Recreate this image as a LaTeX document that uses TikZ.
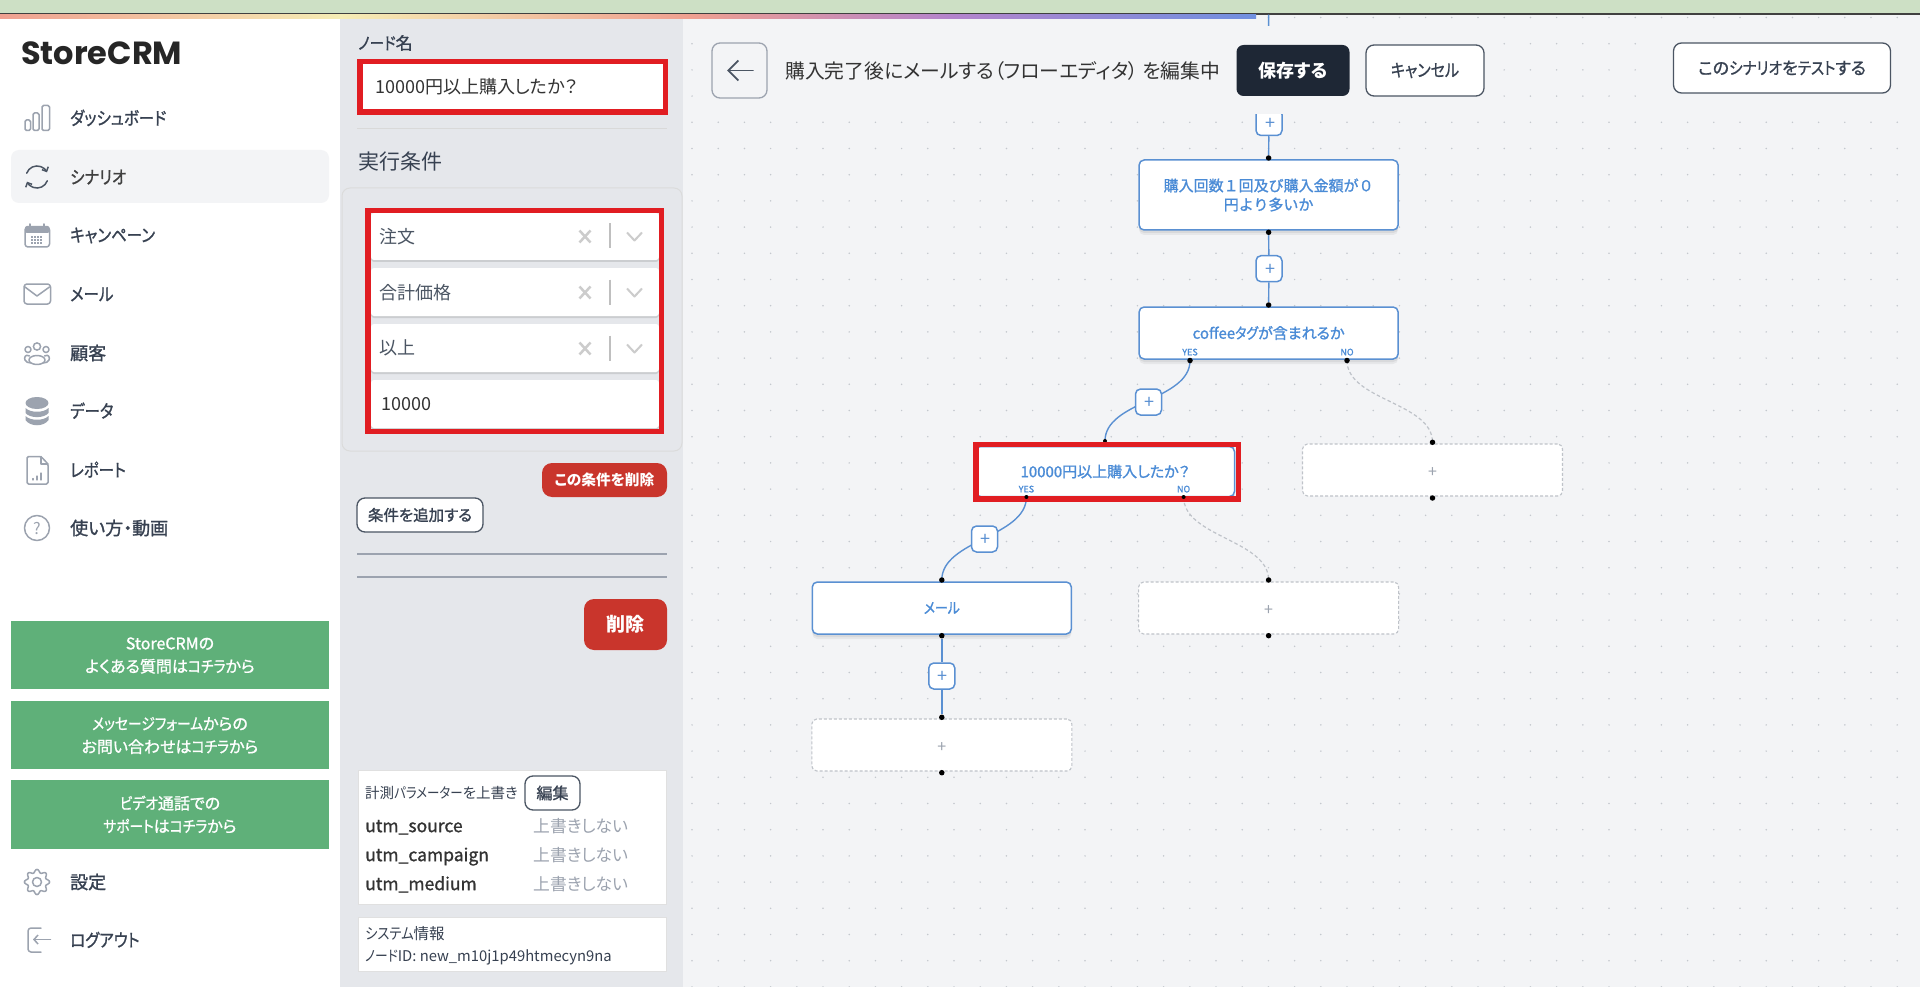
\documentclass[tikz,border=0pt]{standalone}
\usepackage{fontspec}
\usetikzlibrary{shadows,arrows.meta}
\setmainfont{Noto Sans CJK JP}[RawFeature={+palt}]
\newfontfamily\jpm{Noto Sans CJK JP}[RawFeature={+palt},FakeBold=1.2]
\newfontfamily\jpw{Noto Sans CJK JP}[FakeBold=1.2]
\newfontfamily\kanaf{Noto Sans CJK JP}[RawFeature={+palt},FakeStretch=0.86,FakeBold=1.0]
\newfontfamily\kanar{Noto Sans CJK JP}[RawFeature={+palt},FakeStretch=0.86]
\newfontfamily\logofont{Poppins}
\newcommand\kn[1]{{\kanaf #1}}
\newcommand\kr[1]{{\kanar #1}}
\newcommand\plusg{\raisebox{-.46em}[.5em][.5em]{+}}
\newcommand\plusb{\hspace*{2pt}\raisebox{-.38em}[.5em][.5em]{+}}
\definecolor{canvasc}{HTML}{F3F4F6}
\definecolor{panelc}{HTML}{E5E7EB}
\definecolor{bandc}{HTML}{CDE0C5}
\definecolor{redbox}{HTML}{E11D22}
\definecolor{redbtn}{HTML}{C9352C}
\definecolor{greenbtn}{HTML}{5FB079}
\definecolor{navy}{HTML}{1E2735}
\definecolor{txt}{HTML}{374151}
\definecolor{txtl}{HTML}{4B5563}
\definecolor{iconc}{HTML}{9CA3AF}
\definecolor{flowb}{HTML}{5A90D2}
\definecolor{flowt}{HTML}{4A8BD6}
\definecolor{ghost}{HTML}{BFC3C9}
\definecolor{griddot}{HTML}{C4C8CE}
\definecolor{gsalmon}{HTML}{EFA090}
\definecolor{gyellow}{HTML}{F5EDB5}
\definecolor{gpurple}{HTML}{B484CC}
\definecolor{gblue}{HTML}{7090E0}
\pgfdeclarelayer{bg}\pgfdeclarelayer{conn}
\pgfsetlayers{bg,conn,main}
\tikzset{
  tx/.style={font=\fontsize{#1}{#1}\selectfont,inner sep=0pt,text height=0.88*#1pt,text depth=0.12*#1pt},
  tm/.style={font=\jpm\fontsize{#1}{#1}\selectfont,inner sep=0pt,text height=0.88*#1pt,text depth=0.12*#1pt},
  menutx/.style={tm=18,text=txt,anchor=west},
  field/.style={fill=white,rounded corners=3pt,drop shadow={shadow xshift=0pt,shadow yshift=-2pt,opacity=.25,fill=gray}},
  boxed/.style={draw=#1,line width=5.5pt,fill=white},
  greenb/.style={fill=greenbtn},
  greentx/.style={font=\jpm\fontsize{16}{23}\selectfont,text=white,align=center,inner sep=0pt},
  flownode/.style={draw=flowb,line width=1.5pt,fill=white,rounded corners=5pt,minimum width=259pt,minimum height=#1,inner sep=0pt,outer sep=0pt,
    drop shadow={shadow xshift=0pt,shadow yshift=-5pt,opacity=.05,fill=black},
    drop shadow={shadow xshift=0pt,shadow yshift=-3pt,opacity=.06,fill=black}},
  flowtx/.style={font=\jpm\fontsize{15}{19}\selectfont,text=flowt,align=center},
  ghostnode/.style={draw=ghost,line width=1.1pt,dash pattern=on 3pt off 2pt,fill=white,rounded corners=5pt,minimum width=260pt,minimum height=52pt,inner sep=0pt,
    font=\fontsize{16}{16}\selectfont,text=iconc},
  plusbox/.style={draw=flowb,line width=1.5pt,fill=white,rounded corners=5pt,minimum width=26pt,minimum height=26pt,inner sep=0pt,
    font=\fontsize{18}{18}\selectfont,text=flowb},
  port/.style={circle,fill=black,inner sep=0pt,minimum size=5.5pt},
  yn/.style={tm=9,text=flowt},
  flowline/.style={draw=flowb,line width=1.4pt},
  ghostline/.style={draw=ghost,line width=1.2pt,dash pattern=on 3.5pt off 2.5pt},
  icon/.style={draw=iconc,line width=1.5pt,line cap=round,line join=round},
  xmark/.style={draw=black!20,line width=2.5pt},
  chev/.style={draw=black!20,line width=2pt,line join=round},
  lightbtn/.style={draw=txtl,line width=1.3pt,fill=white,rounded corners=8pt,inner sep=0pt},
  sep/.style={draw=iconc,line width=1.2pt},
}
\begin{document}
\begin{tikzpicture}[x=1pt,y=-1pt]
\useasboundingbox (0,0) rectangle (1920,987);
\begin{pgfonlayer}{bg}
  \fill[canvasc] (0,0) rectangle (1920,987);
  \foreach \i in {0,...,47}{\foreach \j in {0,...,37}{
    \fill[griddot] ({692+26.2*\i},{17.5+26.2*\j}) circle (0.85pt);}}
  \fill[white] (0,15) rectangle (340,987);
  \fill[panelc] (340,15) rectangle (683,987);
  \fill[bandc] (0,0) rectangle (1920,13);
  \fill[black!75] (0,13) rectangle (1920,14.7);
  \shade[left color=gsalmon,right color=gyellow] (0,14.7) rectangle (340,18.5);
  \shade[left color=gyellow,right color=gsalmon] (340,14.7) rectangle (690,18.5);
  \shade[left color=gsalmon,right color=gpurple] (690,14.7) rectangle (950,18.5);
  \shade[left color=gpurple,right color=gblue] (950,14.7) rectangle (1256,18.5);
  \fill[canvasc] (11,150) [rounded corners=8pt] rectangle (329,203);
\end{pgfonlayer}

% sidebar
\node[anchor=base west,inner sep=0pt,font=\logofont\bfseries\fontsize{32}{32}\selectfont,text=black!85] (logo) at (21,64.5) {StoreCRM};
\node[menutx] (m1) at (70,118) {\kn{ダッシュボード}};
\node[menutx,text=black!75] (m2) at (70,177) {\kn{シナリオ}};
\node[menutx] (m3) at (70,235) {\kn{キャンペーン}};
\node[menutx] (m4) at (70,294) {\kn{メール}};
\node[menutx] (m5) at (70,353) {顧客};
\node[menutx] (m6) at (70,411) {\kn{データ}};
\node[menutx] (m7) at (70,470) {\kn{レポート}};
\node[menutx] (m8) at (70,528) {使い方・動画};
\node[menutx] (m9) at (70,882) {設定};
\node[menutx] (m10) at (70,940) {\kn{ログアウト}};
% icons
\draw[icon,rounded corners=1.5pt] (25,120) rectangle (30.5,130.5) (33,113) rectangle (39,130.5) (42,105.5) rectangle (49.5,130.5);
\draw[icon,draw=txtl,-{Straight Barb[length=3.5pt,width=7pt]}] (26.7,173.2) arc[start angle=160,end angle=25,radius=11pt];
\draw[icon,draw=txtl,-{Straight Barb[length=3.5pt,width=7pt]}] (47.3,180.8) arc[start angle=-20,end angle=-155,radius=11pt];
\draw[icon,rounded corners=3pt] (25,227) rectangle (49.5,247);
\fill[iconc,rounded corners=2pt] (25,226) rectangle (49.5,233);
\draw[icon] (30,224) -- (30,227) (44,224) -- (44,227);
\foreach \i in {0,1,2,3}{\foreach \j in {0,1,2}{\fill[iconc] ({31+3*\i},{236+3*\j}) rectangle ++(1.8,1.8);}}
\draw[icon,rounded corners=3pt] (24,284) rectangle (50.5,304);
\draw[icon] (25,287) -- (37,296) -- (49.5,287);
\draw[icon] (37,346.5) circle (3.6) (28,349.5) circle (3) (46,349.5) circle (3);
\draw[icon] (37,360) ellipse (8 and 4.5);
\draw[icon] (29.5,356) .. controls (25,353.5) and (24,358) .. (25,360) .. controls (26,362) and (28,363) .. (31,363);
\draw[icon] (44.5,356) .. controls (49,353.5) and (50,358) .. (49,360) .. controls (48,362) and (46,363) .. (43,363);
\fill[iconc] (37,403) ellipse (11.5 and 6);
\fill[iconc] (25.5,408) .. controls (30,413) and (44,413) .. (48.5,408) -- (48.5,413) .. controls (44,418.5) and (30,418.5) .. (25.5,413) -- cycle;
\fill[iconc] (25.5,416) .. controls (30,421) and (44,421) .. (48.5,416) -- (48.5,420) .. controls (44,427) and (30,427) .. (25.5,420) -- cycle;
\draw[icon,rounded corners=1.5pt] (41,456.5) -- (27,456.5) -- (27,484) -- (48,484) -- (48,464) -- cycle;
\draw[icon] (41,456.5) -- (41,464) -- (48,464);
\draw[icon,line width=1.1pt] (33,480) -- (33,478.5) (37,480) -- (37,476) (41,480) -- (41,473);
\draw[icon] (37,528) circle (12.5);
\node[tx=16,text=iconc] (helpq) at (37,528) {?};
\draw[icon] plot[domain=0:360,samples=73,smooth] ({37+(11+1.6*cos(8*\x))*cos(\x)},{882+(11+1.6*cos(8*\x))*sin(\x)});
\draw[icon] (37,882) circle (4.5);
\draw[icon,rounded corners=3pt] (41,928) -- (28,928) -- (28,952) -- (41,952);
\draw[icon,-{Straight Barb[length=4pt,width=9pt]}] (50.5,939.5) -- (33,939.5);
% green buttons
\fill[greenb] (11,621) rectangle (329,689);
\fill[greenb] (11,701) rectangle (329,769);
\fill[greenb] (11,780) rectangle (329,849);
\node[greentx] (g1) at (170,655.5) {StoreCRMの\\よくある質問は\kn{コチラ}から};
\node[greentx] (g2) at (170,735.5) {\kn{メッセージフォーム}からの\\お問い合わせは\kn{コチラ}から};
\node[greentx] (g3) at (170,814.5) {\kn{ビデオ}通話での\\\kn{サポート}は\kn{コチラ}から};

% properties panel
\node[tm=17,text=txt,anchor=west] (lblname) at (358,43) {\kn{ノード}名};
\filldraw[boxed=redbox] (359.75,61.45) rectangle (665.25,112.25);
\node[tx=18,text=black!80,anchor=west] (valname) at (375,87) {10000円以上購入したか？};
\draw[draw=black!15,line width=1pt] (357,128.5) -- (667,128.5);
\node[tx=21,text=txt,anchor=west] (lblcond) at (358,162) {実行条件};
\draw[draw=black!14,fill=panelc,rounded corners=8pt,line width=1pt] (342,188) rectangle (682,451);
\fill[field] (371,213) rectangle (659,260);
\fill[field] (371,268) rectangle (659,316);
\fill[field] (371,324) rectangle (659,372);
\fill[field] (371,380) rectangle (659,428);
\draw[draw=redbox,line width=5.5pt] (367.75,210.75) rectangle (661.25,431.25);
\node[tx=18,text=txtl,anchor=west] (f1) at (379,237) {注文};
\node[tx=18,text=txtl,anchor=west] (f2) at (379,292.5) {合計価格};
\node[tx=18,text=txtl,anchor=west] (f3) at (379,348) {以上};
\node[tx=18,text=black!80,anchor=west] (f4) at (381,404) {10000};
\foreach \yy in {236.5,292.5,348.5}{
  \draw[xmark] (579.5,{\yy-6}) -- (590.5,{\yy+6}) (590.5,{\yy-6}) -- (579.5,{\yy+6});
  \draw[draw=black!25,line width=1.2pt] (610,{\yy-13}) -- (610,{\yy+12});
  \draw[chev] (627,{\yy-4}) -- (634.5,{\yy+4}) -- (642,{\yy-4});
}
\node[fill=redbtn,rounded corners=10pt,minimum width=125pt,minimum height=34pt,inner sep=0pt,text=white,font=\bfseries\fontsize{14.7}{15}\selectfont] (delcond) at (604.5,480) {この条件を削除};
\node[lightbtn,minimum width=126pt,minimum height=34pt,text=txt,font=\jpm\fontsize{15.5}{15.5}\selectfont] (addcond) at (420,515) {条件を追加する};
\draw[sep] (357,554) -- (667,554) (357,577) -- (667,577);
\node[fill=redbtn,rounded corners=10pt,minimum width=83pt,minimum height=51pt,inner sep=0pt,text=white,font=\bfseries\fontsize{19}{19}\selectfont] (delbtn) at (625.5,624.5) {削除};
\draw[draw=black!12,fill=white,line width=1pt] (358,770) rectangle (666,904);
\node[tx=14.5,text=txt,anchor=west] (ptitle) at (365,793) {計測\kr{パラメーター}を上書き};
\node[lightbtn,minimum width=55pt,minimum height=34pt,text=txt,font=\jpm\fontsize{16}{16}\selectfont] (pedit) at (552.5,793) {編集};
\node[tm=17.5,text=black!80,anchor=west] (u1) at (365,825.5) {utm\_source};
\node[tm=17.5,text=black!80,anchor=west] (u2) at (365,854.5) {utm\_campaign};
\node[tm=17.5,text=black!80,anchor=west] (u3) at (365,883.5) {utm\_medium};
\node[tx=16.8,text=iconc,anchor=west] (v1) at (533,826) {上書きしない};
\node[tx=16.8,text=iconc,anchor=west] (v2) at (533,855) {上書きしない};
\node[tx=16.8,text=iconc,anchor=west] (v3) at (533,884) {上書きしない};
\draw[draw=black!12,fill=white,line width=1pt] (358,917) rectangle (666,971);
\node[tx=15.5,text=txt,anchor=west] (s1) at (365,934) {\kr{システム}情報};
\node[tx=14.8,text=txt,anchor=west] (s2) at (365,956) {\kr{ノード}ID: new\_m10j1p49htmecyn9na};

% flow: nodes
\coordinate (flowtop) at (1268.6,14.7);
\node[plusbox] (p0) at (1269,122.5) {\plusb};
\fill[canvasc] (708,26) rectangle (1492,114);
\fill[canvasc] (1650,26) rectangle (1920,114);
\node[flownode=70pt,flowtx,font=\jpw\fontsize{15}{19}\selectfont] (n1) at (1268.6,195) {購入回数１回及び購入金額が０\\円より多いか};
\node[flownode=52pt,flowtx] (n2) at (1268.6,333) {coffee\kn{タグ}が含まれるか};
\node[flownode=50pt,flowtx] (n3) at (1105,471.5) {10000円以上購入したか？};
\node[flownode=52pt,flowtx] (n4) at (941.8,608) {\kn{メール}};
\node[ghostnode] (g5) at (1432.5,470) {\plusg};
\node[ghostnode] (g6) at (1268.6,608) {\plusg};
\node[ghostnode] (g7) at (941.8,745) {\plusg};
\node[port,minimum size=4pt] (d4) at (1105,441) {};
\draw[draw=redbox,line width=5.5pt] (975.75,444.45) rectangle (1238.25,499);
\node[plusbox] (p1) at (1269,268.7) {\plusb};
\node[plusbox] (p2) at (1148.5,402) {\plusb};
\node[plusbox] (p3) at (984.5,539) {\plusb};
\node[plusbox] (p4) at (941.8,676) {\plusb};
\node[port] (d0) at (1268.6,158) {};
\node[port] (d1) at (1268.6,232.3) {};
\node[port] (d2) at (1268.6,305) {};
\node[port] (d3y) at (1190,360.5) {};
\node[port] (d3n) at (1347,360.5) {};
\node[port,minimum size=4pt] (d4y) at (1026.4,497) {};
\node[port,minimum size=4pt] (d4n) at (1183.6,497) {};
\node[port] (d5) at (941.8,580) {};
\node[port] (d6) at (941.8,635.7) {};
\node[port] (d7) at (941.8,717.3) {};
\node[port] (d8) at (941.8,772.7) {};
\node[port] (d9) at (1432.5,442.3) {};
\node[port] (d10) at (1432.5,498) {};
\node[port] (d11) at (1268.6,580) {};
\node[port] (d12) at (1268.6,635.7) {};
\node[yn] (y1) at (1190,352) {YES};
\node[yn] (y2) at (1347,352) {NO};
\node[yn] (y3) at (1026.4,489) {YES};
\node[yn] (y4) at (1183.6,489) {NO};
\begin{pgfonlayer}{conn}
  \draw[flowline] (flowtop) -- (p0);
  \draw[flowline] (p0) -- (d0);
  \draw[flowline] (d1) -- (p1);
  \draw[flowline] (p1) -- (d2);
  \draw[flowline] (d3y.center) .. controls +(0,40) and +(0,-40) .. (d4.center);
  \draw[ghostline] (d3n.center) .. controls +(0,40) and +(0,-40) .. (d9.center);
  \draw[flowline] (d4y.center) .. controls +(0,40) and +(0,-40) .. (d5.center);
  \draw[ghostline] (d4n.center) .. controls +(0,40) and +(0,-40) .. (d11.center);
  \draw[flowline] (d6) -- (p4);
  \draw[flowline] (p4) -- (d7);
\end{pgfonlayer}

% header
\node[draw=iconc,line width=1.3pt,fill=canvasc,rounded corners=8pt,minimum width=55pt,minimum height=55pt,inner sep=0pt] (back) at (739.5,70.5) {};
\draw[draw=txtl,line width=1.8pt,line cap=round,-{Straight Barb[length=10pt,width=20pt]}] (753,70.5) -- (727,70.5);
\node[tx=19.8,text=black!80,anchor=west] (title) at (785,71) {購入完了後にメールする（フローエディタ） を編集中};
\node[fill=navy,rounded corners=7pt,minimum width=113pt,minimum height=51pt,inner sep=0pt,text=white,font=\bfseries\fontsize{18}{18}\selectfont] (save) at (1293,70.5) {保存する};
\node[draw=txtl,line width=1.3pt,fill=white,rounded corners=8pt,minimum width=118pt,minimum height=51pt,inner sep=0pt,text=txt,font=\jpm\fontsize{17.5}{17.5}\selectfont] (cancel) at (1425,70.5) {\kn{キャンセル}};
\node[draw=txtl,line width=1.3pt,fill=white,rounded corners=8pt,minimum width=217pt,minimum height=50pt,inner sep=0pt,text=txt,font=\jpm\fontsize{17}{17}\selectfont] (test) at (1782,68) {この\kn{シナリオ}を\kn{テスト}する};
\end{tikzpicture}
\end{document}
